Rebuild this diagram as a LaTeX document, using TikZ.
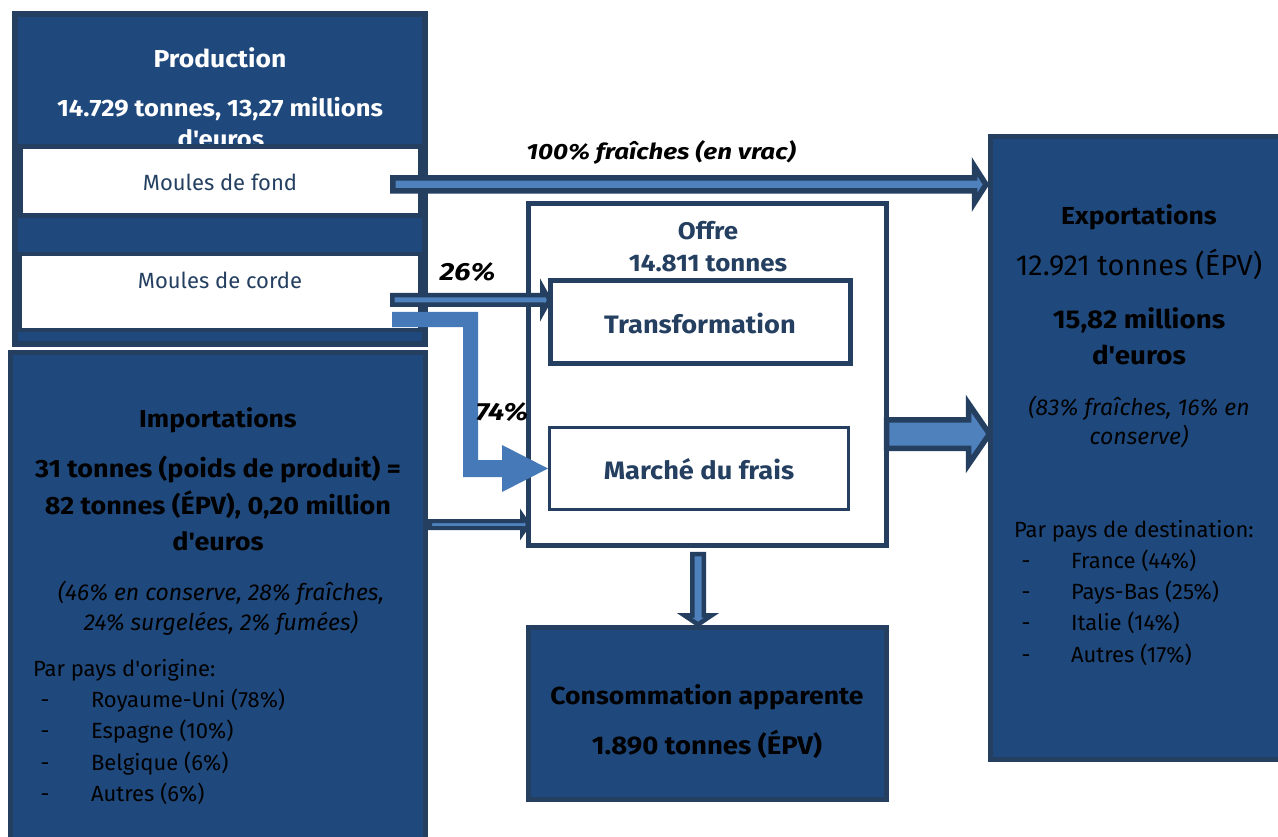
\documentclass[tikz,border=0pt]{standalone}
\usepackage{fontspec}
\setmainfont{Fira Sans}[BoldFeatures={FakeStretch=1.08},BoldItalicFeatures={FakeStretch=1.18}]
\usetikzlibrary{calc}
\definecolor{fillc}{HTML}{1F497D}
\definecolor{bordc}{HTML}{243F60}
\definecolor{lightc}{HTML}{4F81BD}
\definecolor{lshape}{HTML}{4679B8}
\definecolor{navy}{HTML}{243F60}
\newcommand{\fsz}[1]{\fontsize{#1}{#1}\selectfont}
\newcommand{\apos}{\textquotesingle}
% horizontal block arrow: style, start, tip, shaft half, head half, head length
\newcommand{\harrow}[6]{\draw[#1] let \p1=(#2), \p2=(#3) in (\x1,\y1+#4) -- (\x2-#6,\y1+#4) -- (\x2-#6,\y1+#5) -- (\x2,\y1) -- (\x2-#6,\y1-#5) -- (\x2-#6,\y1-#4) -- (\x1,\y1-#4) -- cycle;}
% vertical (downward) block arrow
\newcommand{\varrow}[6]{\draw[#1] let \p1=(#2), \p2=(#3) in (\x1-#4,\y1) -- (\x1-#4,\y2+#6) -- (\x1-#5,\y2+#6) -- (\x1,\y2) -- (\x1+#5,\y2+#6) -- (\x1+#4,\y2+#6) -- (\x1+#4,\y1) -- cycle;}
\begin{document}
\begin{tikzpicture}[x=1pt,y=-1pt,
  dbox/.style={draw=bordc, fill=fillc, inner sep=0pt, outer sep=0pt},
  wbox/.style={draw=bordc, fill=white, inner sep=0pt, outer sep=0pt},
  txt/.style={inner sep=0pt, outer sep=0pt, anchor=mid, yshift=-6.5pt},
  ltxt/.style={inner sep=0pt, outer sep=0pt, anchor=mid west, yshift=-6.5pt},
  arrA/.style={draw=bordc, fill=lightc, line join=miter, miter limit=10},
  wt/.style={text=white, font=\bfseries\fsz{24.5}},
  bt/.style={text=black, font=\bfseries\fsz{25}},
  it/.style={text=black, font=\itshape\fsz{23}},
  rt/.style={text=black, font=\fsz{22}},
  nt/.style={text=navy, font=\bfseries\fsz{25.2}},
  lab/.style={text=black, font=\bfseries\itshape\fsz{24.8}}]
\useasboundingbox (0,0) rectangle (1278,837);
\fill[white] (0,0) rectangle (1278,837);

% ---------- Production ----------
\node[dbox, line width=6pt, minimum width=410pt, minimum height=330pt] (prod) at (220,179) {};
\node[txt, wt] (prodt) at (220,58) {Production};
\node[txt, wt, font=\bfseries\fsz{23.7}] (prodv1) at (220,107) {14.729 tonnes, 13,27 millions};
\node[txt, wt, font=\bfseries\fsz{23.7}] (prodv2) at (221,138) {d\apos euros};
\node[wbox, line width=5pt, minimum width=400pt, minimum height=69pt] (fond) at (220,181.5) {};
\node[txt, text=navy, font=\fsz{22}] (fondt) at (220,181) {Moules de fond};
\node[wbox, line width=4pt, minimum width=400pt, minimum height=76pt] (corde) at (220,292) {};
\node[txt, text=navy, font=\fsz{22}] (cordet) at (220,279) {Moules de corde};

% ---------- Importations ----------
\node[dbox, line width=5pt, minimum width=415pt, minimum height=507.5pt] (imp) at (218,606.25) {};
\node[txt, bt, font=\bfseries\fsz{24.5}] (impt) at (218,418) {Importations};
\node[txt, bt] (imp1) at (218,468) {31 tonnes (poids de produit) =};
\node[txt, bt] (imp2) at (218,505) {82 tonnes (ÉPV), 0,20 million};
\node[txt, bt] (imp3) at (218,541) {d\apos euros};
\node[txt, it] (imp4) at (221,591) {(46\% en conserve, 28\% fraîches,};
\node[txt, it] (imp5) at (221,621) {24\% surgelées, 2\% fumées)};
\node[ltxt, rt] (imp6) at (33,667) {Par pays d\apos origine:};
\node[txt, rt] (id1) at (45,698) {-};
\node[ltxt, rt] (ii1) at (91,698) {Royaume-Uni (78\%)};
\node[txt, rt] (id2) at (45,729) {-};
\node[ltxt, rt] (ii2) at (91,729) {Espagne (10\%)};
\node[txt, rt] (id3) at (45,761) {-};
\node[ltxt, rt] (ii3) at (91,761) {Belgique (6\%)};
\node[txt, rt] (id4) at (45,792) {-};
\node[ltxt, rt] (ii4) at (91,792) {Autres (6\%)};

% ---------- Exportations ----------
\node[dbox, line width=5pt, minimum width=309.5pt, minimum height=623pt] (exp) at (1145.25,448) {};
\node[txt, bt, font=\bfseries\fsz{24.6}] (expt) at (1139,215) {Exportations};
\node[txt, rt, font=\fsz{29}] (exp1) at (1139,266) {12.921 tonnes (ÉPV)};
\node[txt, bt, font=\bfseries\fsz{25.7}] (exp2) at (1139,319) {15,82 millions};
\node[txt, bt, font=\bfseries\fsz{25.7}] (exp3) at (1139,355) {d\apos euros};
\node[txt, it] (exp4) at (1139,406) {(83\% fraîches, 16\% en};
\node[txt, it] (exp5) at (1139,435) {conserve)};
\node[ltxt, rt] (exp6) at (1014,528) {Par pays de destination:};
\node[txt, rt] (ed1) at (1026,559) {-};
\node[ltxt, rt] (ei1) at (1071,559) {France (44\%)};
\node[txt, rt] (ed2) at (1026,590) {-};
\node[ltxt, rt] (ei2) at (1071,590) {Pays-Bas (25\%)};
\node[txt, rt] (ed3) at (1026,621) {-};
\node[ltxt, rt] (ei3) at (1071,621) {Italie (14\%)};
\node[txt, rt] (ed4) at (1026,653) {-};
\node[ltxt, rt] (ei4) at (1071,653) {Autres (17\%)};

% ---------- Offre ----------
\node[wbox, line width=5pt, minimum width=358pt, minimum height=342pt] (offre) at (707.5,374.5) {};
\node[txt, nt, font=\bfseries\fsz{24}] (offt) at (708,230) {Offre};
\node[txt, nt, font=\bfseries\fsz{24}] (offv) at (708,262) {14.811 tonnes};
\node[wbox, line width=5pt, minimum width=300pt, minimum height=83pt] (transf) at (700.5,322) {};
\node[txt, nt] (transft) at (700,324) {Transformation};
\node[wbox, line width=3pt, minimum width=299pt, minimum height=82pt] (frais) at (699,468.5) {};
\node[txt, nt] (fraist) at (699,470) {Marché du frais};

% ---------- Consommation ----------
\node[dbox, line width=5pt, minimum width=358pt, minimum height=172pt] (conso) at (707.5,713.5) {};
\node[txt, bt, font=\bfseries\fsz{24.6}] (conso1) at (707,695) {Consommation apparente};
\node[txt, bt, font=\bfseries\fsz{25.5}] (conso2) at (707,745) {1.890 tonnes (ÉPV)};

% ---------- Arrows ----------
\coordinate (a1s) at ($(fond.east)+(-27.25,3)$);
\coordinate (a1e) at ($(exp.west |- a1s)+(-4.5,0)$);
\harrow{arrA, line width=5.5pt}{a1s}{a1e}{6.5}{18}{11.5}

\coordinate (a2s) at ($(corde.east)+(-27.75,8)$);
\coordinate (a2e) at ($(transf.west |- a2s)+(-1,0)$);
\harrow{arrA, line width=4.5pt}{a2s}{a2e}{4.75}{13}{7.25}

\coordinate (a3s) at ($(corde.east)+(-28,27.5)$);
\coordinate (a3e) at ($(frais.west)+(-1.5,0)$);
\fill[lshape] let \p1=(a3s), \p2=(a3e) in
  (\x1,\y1+7.5) -- (\x2-70,\y1+7.5) -- (\x2-70,\y2+8.5) -- (\x2-46,\y2+8.5) -- (\x2-46,\y2+23.5)
  -- (\x2,\y2) -- (\x2-46,\y2-23.5) -- (\x2-46,\y2-8.5) -- (\x2-85,\y2-8.5) -- (\x2-85,\y1-7.5)
  -- (\x1,\y1-7.5) -- cycle;

\coordinate (a4s) at ($(imp.east)+(4.5,-81.75)$);
\coordinate (a4e) at (offre.west |- a4s);
\harrow{arrA, line width=4pt}{a4s}{a4e}{3.5}{9.5}{6.5}

\coordinate (a5s) at ($(offre.east)+(0,59.5)$);
\coordinate (a5e) at ($(exp.west |- a5s)+(-1,0)$);
\harrow{arrA, line width=5.5pt}{a5s}{a5e}{14.25}{30.5}{21}

\coordinate (a6s) at ($(offre.south)+(-9.5,8.5)$);
\coordinate (a6e) at ($(a6s |- conso.north)+(0,-3)$);
\varrow{arrA, line width=4.5pt}{a6s}{a6e}{5.75}{13.75}{9.25}

% ---------- Labels ----------
\node[txt, lab, font=\bfseries\itshape\fsz{22}] (lab100) at (661,150) {100\% fraîches (en vrac)};
\node[txt, lab] (lab26) at (467.5,271) {26\%};
\node[txt, lab] (lab74) at (502,411) {74\%};
\end{tikzpicture}
\end{document}
